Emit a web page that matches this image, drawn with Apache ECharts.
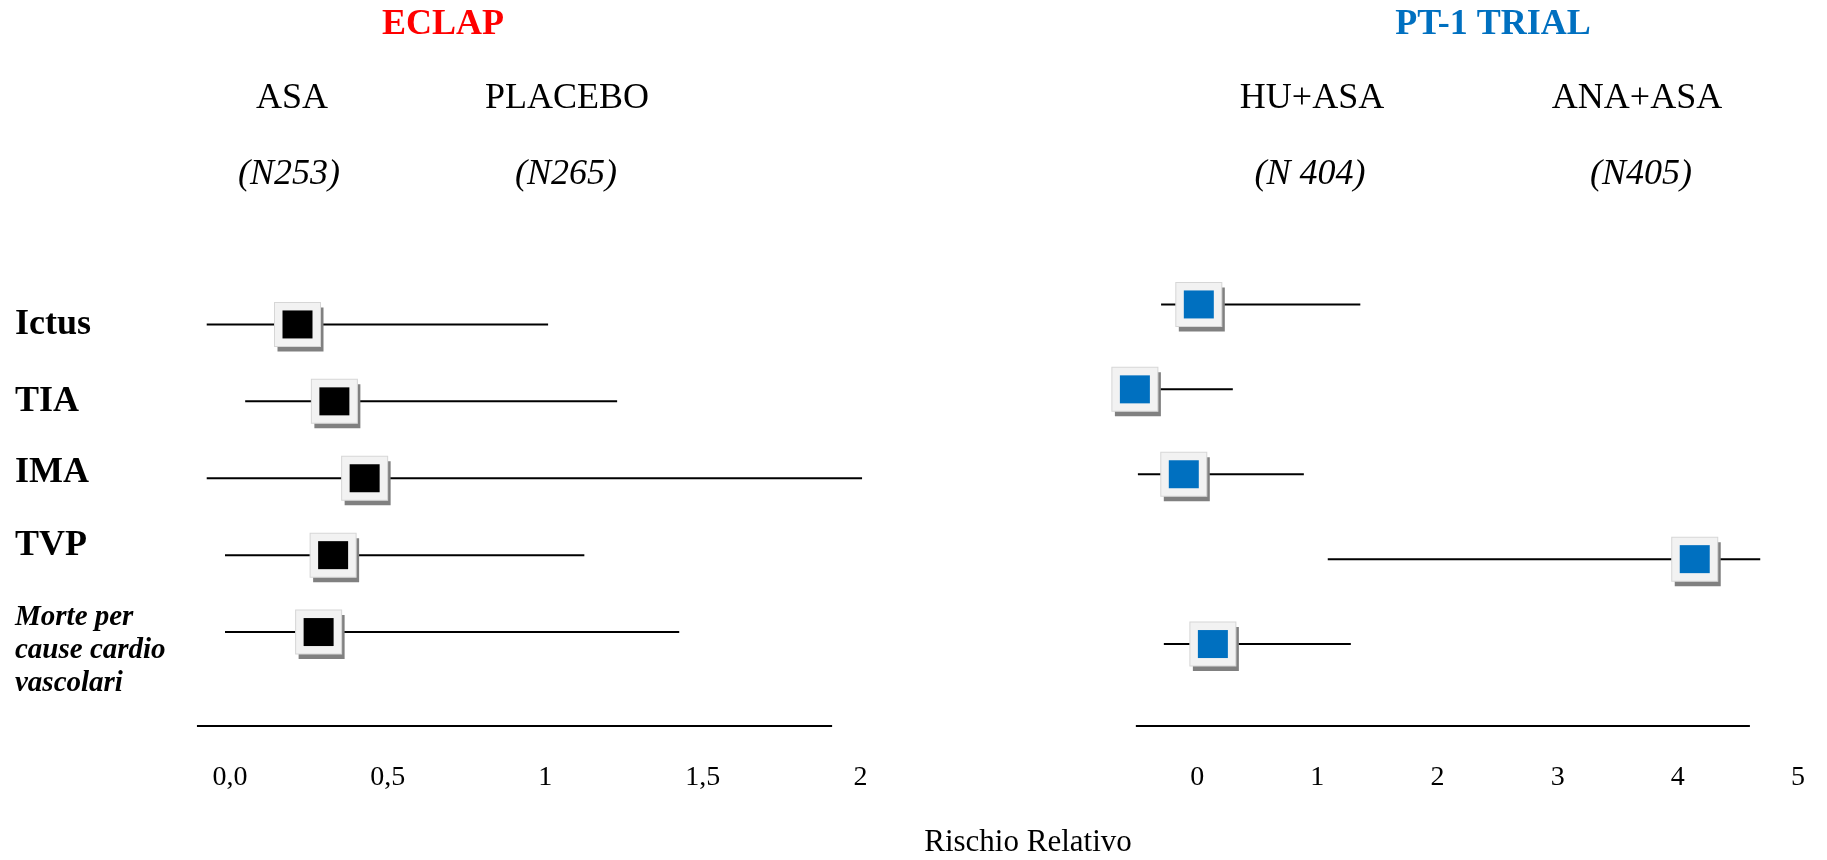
<!DOCTYPE html>
<html>
<head>
<meta charset="utf-8">
<style>
  html, body { margin: 0; padding: 0; background: #ffffff; }
  #chart { width: 1827px; height: 860px; }
</style>
<script src="https://cdn.jsdelivr.net/npm/echarts@6/dist/echarts.min.js"></script>
</head>
<body>
<div id="chart"></div>
<script>
// ---------- data ----------
const categories = ['Ictus', 'TIA', 'IMA', 'TVP', 'Morte per\ncause cardio\nvascolari'];

// ECLAP (ASA vs PLACEBO)
const eclapPoint = [0.214, 0.331, 0.427, 0.327, 0.281];
const eclapLow   = [-0.074, 0.048, -0.074, -0.016, -0.016];
const eclapHigh  = [1.009, 1.228, 2.005, 1.124, 1.425];

// PT-1 TRIAL (HU+ASA vs ANA+ASA)
const pt1Point = [0.014, -0.518, -0.111, 4.141, 0.131];
const pt1Low   = [-0.30, -0.55, -0.493, 1.087, -0.277];
const pt1High  = [1.358, 0.297, 0.888, 4.686, 1.279];

// axis ticks
const eclapTicks = [0, 0.5, 1, 1.5, 2];
const eclapTickLabels = ['0,0', '0,5', '1', '1,5', '2'];
const pt1Ticks = [0, 1, 2, 3, 4, 5];
const pt1TickLabels = ['0', '1', '2', '3', '4', '5'];

// baseline extents
const eclapBaseline = [-0.105, 1.91];
const pt1Baseline = [-0.51, 4.60];

// ---------- chart ----------
const FONT = 'Liberation Serif';
const chart = echarts.init(document.getElementById('chart'), null, { renderer: 'canvas' });

function tickFormatter(ticks, labels) {
  return function (v) {
    const i = ticks.findIndex(t => Math.abs(t - v) < 1e-9);
    return i >= 0 ? labels[i] : '';
  };
}

function whiskerSeries(low, high, xi, yi) {
  return {
    type: 'custom',
    xAxisIndex: xi, yAxisIndex: yi,
    silent: true,
    data: categories.map((c, i) => [low[i], high[i], i]),
    encode: { x: [0, 1], y: 2 },
    renderItem: function (params, api) {
      const p1 = api.coord([api.value(0), api.value(2)]);
      const p2 = api.coord([api.value(1), api.value(2)]);
      return {
        type: 'line',
        shape: { x1: p1[0], y1: p1[1], x2: p2[0], y2: p2[1] },
        style: { stroke: '#000000', lineWidth: 2 }
      };
    },
    z: 1
  };
}

function markerSeries(points, xi, yi, innerColor) {
  const d = categories.map((c, i) => [points[i], i]);
  return [
    { type: 'scatter', xAxisIndex: xi, yAxisIndex: yi, data: d, silent: true, clip: false,
      symbol: 'rect', symbolSize: [46, 44], symbolOffset: [3, 5],
      itemStyle: { color: '#808080', opacity: 1 }, z: 2 },
    { type: 'scatter', xAxisIndex: xi, yAxisIndex: yi, data: d, silent: true, clip: false,
      symbol: 'rect', symbolSize: [46, 44],
      itemStyle: { color: '#F2F2F2', borderColor: '#D6D6D6', borderWidth: 1, opacity: 1 }, z: 3 },
    { type: 'scatter', xAxisIndex: xi, yAxisIndex: yi, data: d, silent: true, clip: false,
      symbol: 'rect', symbolSize: [30, 28],
      itemStyle: { color: innerColor, opacity: 1 }, z: 4 }
  ];
}

function baselineSeries(ext, xi, yi) {
  return {
    type: 'line', xAxisIndex: xi, yAxisIndex: yi, silent: true,
    data: [[ext[0], 0], [ext[1], 0]],
    symbol: 'none',
    lineStyle: { color: '#000000', width: 2 }
  };
}

function headerTitle(text, x, top, size, weight, style, color) {
  return {
    text: text, left: x, top: top, textAlign: 'center', padding: 0,
    textStyle: { fontFamily: FONT, fontSize: size, fontWeight: weight, fontStyle: style, color: color }
  };
}

// category label formatting (style only): bold labels, italic multi-line label,
// with small spacer lines to nudge the text vertically like the original slide
function categoryLabel(value, index) {
  if (value.indexOf('\n') >= 0) {
    return '{gapTop| }\n' + value.split('\n').map(s => '{m|' + s + '}').join('\n');
  }
  if (index === 2) return '{b|' + value + '}\n{gapS| }';
  if (index === 3) return '{b|' + value + '}\n{gapM| }';
  return '{b|' + value + '}';
}

const option = {
  backgroundColor: '#ffffff',
  animation: false,
  title: [
    headerTitle('ECLAP', 443, 7, 36, 'bold', 'normal', '#FF0000'),
    headerTitle('PT-1 TRIAL', 1493, 7, 36, 'bold', 'normal', '#0070C0'),
    headerTitle('ASA', 292, 81, 36, 'normal', 'normal', '#000000'),
    headerTitle('PLACEBO', 567, 81, 36, 'normal', 'normal', '#000000'),
    headerTitle('(N253)', 289, 157, 36, 'normal', 'italic', '#000000'),
    headerTitle('(N265)', 566, 157, 36, 'normal', 'italic', '#000000'),
    headerTitle('HU+ASA', 1312, 81, 36, 'normal', 'normal', '#000000'),
    headerTitle('ANA+ASA', 1637, 81, 36, 'normal', 'normal', '#000000'),
    headerTitle('(N 404)', 1310, 157, 36, 'normal', 'italic', '#000000'),
    headerTitle('(N405)', 1641, 157, 36, 'normal', 'italic', '#000000'),
    headerTitle('Rischio Relativo', 1028, 827, 31, 'normal', 'normal', '#000000')
  ],
  grid: [
    { left: 167, width: 725, top: 286, height: 384.5, outerBoundsMode: 'none', containLabel: false },
    { left: 167, width: 725, top: 716, height: 20, outerBoundsMode: 'none', containLabel: false },
    { left: 1101, width: 721, top: 262, height: 424.5, outerBoundsMode: 'none', containLabel: false },
    { left: 1101, width: 721, top: 716, height: 20, outerBoundsMode: 'none', containLabel: false }
  ],
  xAxis: [
    { gridIndex: 0, type: 'value', min: -0.2, max: 2.1, show: false },
    { gridIndex: 1, type: 'value', min: -0.2, max: 2.1,
      axisLine: { show: false }, axisTick: { show: false }, splitLine: { show: false },
      axisLabel: { customValues: eclapTicks, formatter: tickFormatter(eclapTicks, eclapTickLabels),
        margin: 28, fontFamily: FONT, fontSize: 28, color: '#000000' } },
    { gridIndex: 2, type: 'value', min: -0.8, max: 5.2, show: false },
    { gridIndex: 3, type: 'value', min: -0.8, max: 5.2,
      axisLine: { show: false }, axisTick: { show: false }, splitLine: { show: false },
      axisLabel: { customValues: pt1Ticks, formatter: tickFormatter(pt1Ticks, pt1TickLabels),
        margin: 28, fontFamily: FONT, fontSize: 28, color: '#000000' } }
  ],
  yAxis: [
    { gridIndex: 0, type: 'category', inverse: true, data: categories,
      axisLine: { show: false }, axisTick: { show: false }, splitLine: { show: false },
      axisLabel: {
        interval: 0, hideOverlap: false, align: 'left', margin: 152,
        fontFamily: FONT, fontSize: 36, fontWeight: 'bold', color: '#000000',
        formatter: categoryLabel,
        rich: {
          b: { fontFamily: FONT, fontSize: 36, fontWeight: 'bold', color: '#000000', lineHeight: 40, align: 'left' },
          m: { fontFamily: FONT, fontSize: 29, fontWeight: 'bold', fontStyle: 'italic', color: '#000000', lineHeight: 33, align: 'left' },
          gapTop: { fontSize: 1, lineHeight: 36, align: 'left' },
          gapS: { fontSize: 1, lineHeight: 12, align: 'left' },
          gapM: { fontSize: 1, lineHeight: 18, align: 'left' }
        }
      } },
    { gridIndex: 1, type: 'value', min: -1, max: 1, show: false },
    { gridIndex: 2, type: 'category', inverse: true, data: categories, show: false },
    { gridIndex: 3, type: 'value', min: -1, max: 1, show: false }
  ],
  series: [
    whiskerSeries(eclapLow, eclapHigh, 0, 0),
    ...markerSeries(eclapPoint, 0, 0, '#000000'),
    baselineSeries(eclapBaseline, 1, 1),
    whiskerSeries(pt1Low, pt1High, 2, 2),
    ...markerSeries(pt1Point, 2, 2, '#0070C0'),
    baselineSeries(pt1Baseline, 3, 3)
  ]
};

chart.setOption(option);
</script>
</body>
</html>
